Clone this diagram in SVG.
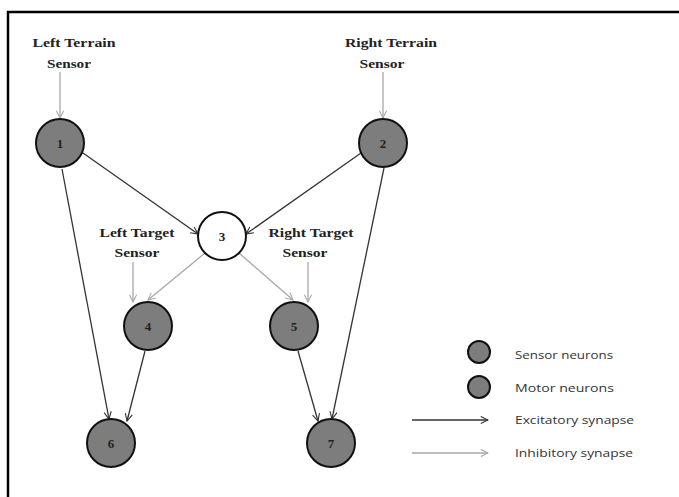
<svg xmlns="http://www.w3.org/2000/svg" width="679" height="497" viewBox="0 0 679 497">
<defs>
<marker id="ad" viewBox="0 0 10 10" refX="9" refY="5" markerWidth="9" markerHeight="9" markerUnits="userSpaceOnUse" orient="auto"><path d="M1,1 L9,5 L1,9" fill="none" stroke="#333" stroke-width="1.2"/></marker>
<marker id="al" viewBox="0 0 10 10" refX="9" refY="5" markerWidth="9" markerHeight="9" markerUnits="userSpaceOnUse" orient="auto"><path d="M1,1 L9,5 L1,9" fill="none" stroke="#a8a8a8" stroke-width="1.2"/></marker>
</defs>
<style>
.n{fill:#7d7d7d;stroke:#111;stroke-width:2}
.w{fill:#fff;stroke:#111;stroke-width:2}
.num{font-family:"Liberation Serif",serif;font-weight:bold;font-size:13px;fill:#222;text-anchor:middle}
.lab{font-family:"Liberation Serif",serif;font-weight:bold;font-size:13px;fill:#222;text-anchor:middle}
.leg{font-family:"Open Sans","DejaVu Sans",sans-serif;font-size:10.5px;fill:#333}
.ex{stroke:#333;stroke-width:1.3;fill:none;marker-end:url(#ad)}
.in{stroke:#a8a8a8;stroke-width:1.3;fill:none;marker-end:url(#al)}
</style>
<rect width="679" height="497" fill="#fff"/>
<path d="M8,497 V12 H679" fill="none" stroke="#000" stroke-width="2.5"/>
<g id="labels">
<text class="lab" x="74" y="47" textLength="83" lengthAdjust="spacingAndGlyphs">Left Terrain</text>
<text class="lab" x="69" y="68" textLength="44" lengthAdjust="spacingAndGlyphs">Sensor</text>
<text class="lab" x="391" y="47" textLength="92" lengthAdjust="spacingAndGlyphs">Right Terrain</text>
<text class="lab" x="382" y="68" textLength="45" lengthAdjust="spacingAndGlyphs">Sensor</text>
<text class="lab" x="137" y="237" textLength="75" lengthAdjust="spacingAndGlyphs">Left Target</text>
<text class="lab" x="137" y="257" textLength="45" lengthAdjust="spacingAndGlyphs">Sensor</text>
<text class="lab" x="311" y="237" textLength="85" lengthAdjust="spacingAndGlyphs">Right Target</text>
<text class="lab" x="305" y="257" textLength="45" lengthAdjust="spacingAndGlyphs">Sensor</text>
</g>
<g id="connectors">
<line class="in" x1="60" y1="72" x2="60" y2="118"/>
<line class="in" x1="383" y1="72" x2="383" y2="118"/>
<line class="in" x1="133" y1="262" x2="133" y2="302"/>
<line class="in" x1="308" y1="262" x2="308" y2="302"/>
<line class="in" x1="205" y1="253" x2="148" y2="300"/>
<line class="in" x1="239" y1="253" x2="293" y2="300"/>
<line class="ex" x1="83" y1="153" x2="198" y2="234"/>
<line class="ex" x1="361" y1="153" x2="246" y2="234"/>
<line class="ex" x1="62" y1="169" x2="109" y2="419"/>
<line class="ex" x1="145" y1="351" x2="127" y2="421"/>
<line class="ex" x1="298" y1="351" x2="318" y2="421"/>
<line class="ex" x1="384" y1="168" x2="332" y2="419"/>
</g>
<g id="n1"><circle class="n" cx="60" cy="143" r="24"/><text class="num" x="60" y="148">1</text></g>
<g id="n2"><circle class="n" cx="383" cy="143" r="24"/><text class="num" x="383" y="148">2</text></g>
<g id="n3"><circle class="w" cx="222" cy="236" r="24"/><text class="num" x="222" y="241">3</text></g>
<g id="n4"><circle class="n" cx="148" cy="326" r="24"/><text class="num" x="148" y="331">4</text></g>
<g id="n5"><circle class="n" cx="294" cy="326" r="24"/><text class="num" x="294" y="331">5</text></g>
<g id="n6"><circle class="n" cx="111" cy="443" r="24"/><text class="num" x="111" y="448">6</text></g>
<g id="n7"><circle class="n" cx="331" cy="443" r="24"/><text class="num" x="331" y="448">7</text></g>
<g id="legend">
<circle class="n" cx="479" cy="352" r="11"/>
<circle class="n" cx="479" cy="387" r="11"/>
<text class="leg" x="515" y="359" textLength="98" lengthAdjust="spacingAndGlyphs">Sensor neurons</text>
<text class="leg" x="515" y="392" textLength="99" lengthAdjust="spacingAndGlyphs">Motor  neurons</text>
<text class="leg" x="515" y="424" textLength="119" lengthAdjust="spacingAndGlyphs">Excitatory synapse</text>
<text class="leg" x="515" y="457" textLength="118" lengthAdjust="spacingAndGlyphs">Inhibitory synapse</text>
<line class="ex" x1="412" y1="420" x2="488" y2="420"/>
<line class="in" x1="412" y1="453" x2="488" y2="453"/>
</g>
</svg>
